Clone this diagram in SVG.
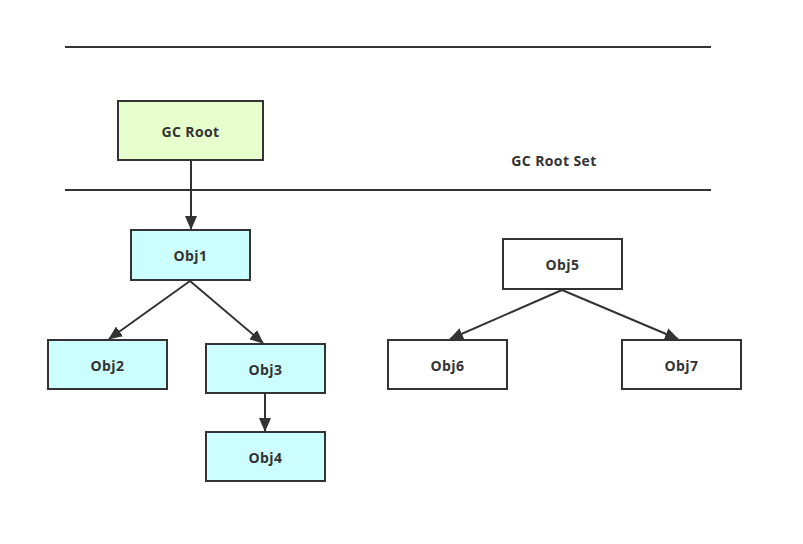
<svg xmlns="http://www.w3.org/2000/svg" width="803" height="544" viewBox="0 0 803 544">
<style>
.n rect{stroke:#333;stroke-width:2}
.root rect{fill:#e6ffcc}
.obj rect{fill:#ccffff}
.w rect{fill:#ffffff}
text{font-family:"Open Sans","Noto Sans",sans-serif;font-weight:bold;font-size:14px;letter-spacing:0.4px;fill:#333;text-anchor:middle;dominant-baseline:central}
.c line{stroke:#333;stroke-width:2;marker-end:url(#a)}
.sep{stroke:#333;stroke-width:2}
</style>
<defs>
<marker id="a" viewBox="0 0 14 12" refX="13" refY="6" markerWidth="14" markerHeight="12" markerUnits="userSpaceOnUse" orient="auto"><path d="M0,0 L14,6 L0,12 z" fill="#333"/></marker>
</defs>
<rect width="803" height="544" fill="#fff"/>
<g id="separators">
<line class="sep" x1="65" y1="47" x2="711" y2="47"/>
<line class="sep" x1="65" y1="190" x2="711" y2="190"/>
<text x="554" y="160">GC Root Set</text>
</g>
<g id="connectors" class="c">
<line x1="191" y1="161" x2="191" y2="229"/>
<line x1="190" y1="281" x2="109" y2="339"/>
<line x1="190" y1="281" x2="263" y2="343"/>
<line x1="265" y1="394" x2="265" y2="431"/>
<line x1="562" y1="290" x2="450" y2="339"/>
<line x1="562" y1="290" x2="678" y2="339"/>
</g>
<g id="gcroot" class="n root"><rect x="118" y="101" width="145" height="59"/><text x="190.5" y="131">GC Root</text></g>
<g id="obj1" class="n obj"><rect x="131" y="230" width="119" height="50"/><text x="190.5" y="255">Obj1</text></g>
<g id="obj2" class="n obj"><rect x="48" y="340" width="119" height="49"/><text x="107.5" y="365">Obj2</text></g>
<g id="obj3" class="n obj"><rect x="206" y="344" width="119" height="49"/><text x="265.5" y="369">Obj3</text></g>
<g id="obj4" class="n obj"><rect x="206" y="432" width="119" height="49"/><text x="265.5" y="457">Obj4</text></g>
<g id="obj5" class="n w"><rect x="503" y="239" width="119" height="50"/><text x="562.5" y="264">Obj5</text></g>
<g id="obj6" class="n w"><rect x="388" y="340" width="119" height="49"/><text x="447.5" y="365">Obj6</text></g>
<g id="obj7" class="n w"><rect x="622" y="340" width="119" height="49"/><text x="681.5" y="365">Obj7</text></g>
</svg>
